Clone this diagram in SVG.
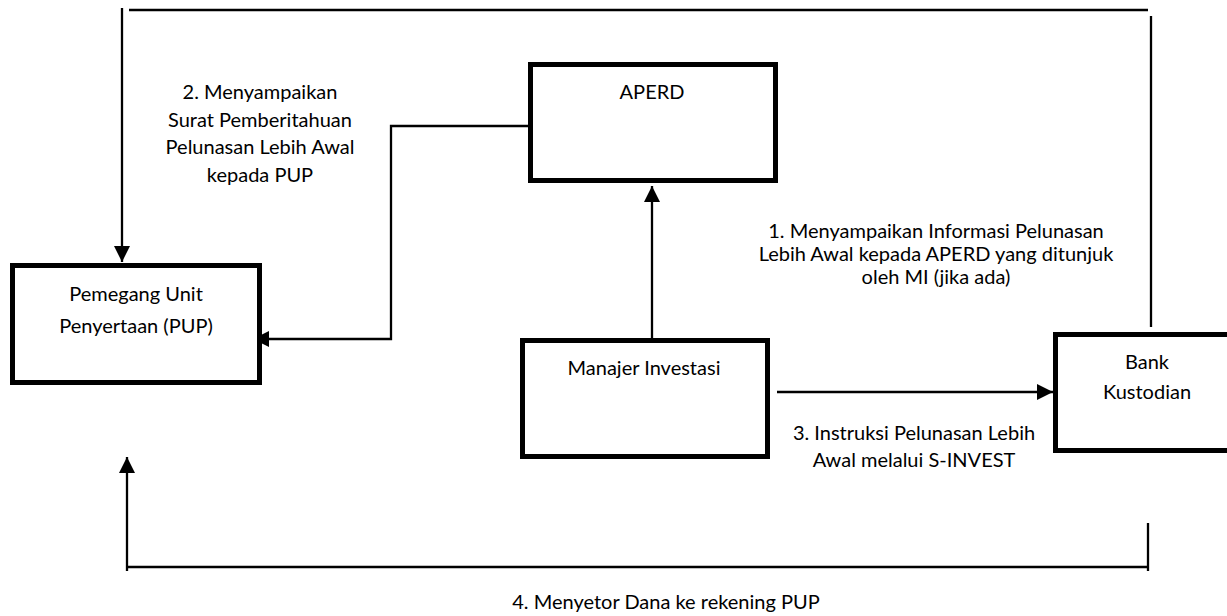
<svg xmlns="http://www.w3.org/2000/svg" width="1227" height="616" viewBox="0 0 1227 616">
  <style>
    .box { fill: #ffffff; stroke: #000000; stroke-width: 5; }
    .ln { fill: none; stroke: #000000; stroke-width: 2.3; }
    .t { font-family: Lato, "Open Sans", sans-serif; font-size: 20px; fill: #000000; text-anchor: middle; }
  </style>
  <defs>
    <marker id="arr" markerUnits="userSpaceOnUse" markerWidth="16" markerHeight="16" refX="15" refY="7.5" orient="auto" viewBox="0 0 15 15">
      <path d="M0,0 L15,7.5 L0,15 Z" fill="#000000"/>
    </marker>
  </defs>
  <rect width="1227" height="616" fill="#ffffff"/>

  <g id="connectors">
    <!-- top return line (Bank Kustodian to PUP) -->
    <line class="ln" x1="129" y1="10" x2="1148" y2="10"/>
    <line class="ln" x1="1151" y1="16" x2="1151" y2="327"/>
    <line class="ln" x1="122" y1="8" x2="122" y2="262" marker-end="url(#arr)"/>
    <!-- APERD to PUP -->
    <polyline class="ln" points="530,126 391,126 391,339 253,339" marker-end="url(#arr)"/>
    <!-- MI to APERD -->
    <line class="ln" x1="652" y1="338" x2="652" y2="186" marker-end="url(#arr)"/>
    <!-- MI to Bank -->
    <line class="ln" x1="777" y1="392" x2="1053" y2="392" marker-end="url(#arr)"/>
    <!-- bottom: Bank to PUP -->
    <line class="ln" x1="1148" y1="523" x2="1148" y2="571"/>
    <line class="ln" x1="126" y1="567" x2="1149" y2="567"/>
    <line class="ln" x1="127" y1="571" x2="127" y2="457" marker-end="url(#arr)"/>
  </g>

  <g id="pup">
    <rect class="box" x="12.5" y="265.5" width="247" height="117"/>
    <text class="t" x="136" y="301">Pemegang Unit</text>
    <text class="t" x="136" y="333">Penyertaan (PUP)</text>
  </g>

  <g id="aperd">
    <rect class="box" x="530.5" y="64.5" width="245" height="116"/>
    <text class="t" x="652" y="99">APERD</text>
  </g>

  <g id="manajer-investasi">
    <rect class="box" x="522.5" y="340.5" width="245" height="116"/>
    <text class="t" x="644" y="375">Manajer Investasi</text>
  </g>

  <g id="bank-kustodian">
    <rect class="box" x="1055.5" y="334.5" width="190" height="116"/>
    <text class="t" x="1147" y="369">Bank</text>
    <text class="t" x="1147" y="399">Kustodian</text>
  </g>

  <g id="labels">
    <text class="t" x="260" y="99">2. Menyampaikan</text>
    <text class="t" x="260" y="127">Surat Pemberitahuan</text>
    <text class="t" x="260" y="154">Pelunasan Lebih Awal</text>
    <text class="t" x="260" y="182">kepada PUP</text>

    <text class="t" x="936" y="238">1. Menyampaikan Informasi Pelunasan</text>
    <text class="t" x="936" y="261">Lebih Awal kepada APERD yang ditunjuk</text>
    <text class="t" x="936" y="284">oleh MI (jika ada)</text>

    <text class="t" x="914" y="440">3. Instruksi Pelunasan Lebih</text>
    <text class="t" x="914" y="467">Awal melalui S-INVEST</text>

    <text class="t" x="666" y="609">4. Menyetor Dana ke rekening PUP</text>
  </g>
</svg>
